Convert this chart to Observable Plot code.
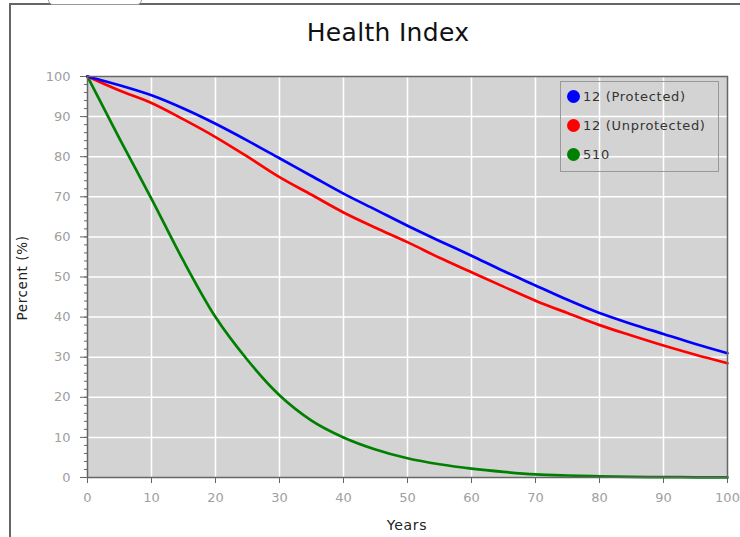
<!DOCTYPE html>
<html>
<head>
<meta charset="utf-8">
<script src="https://cdn.jsdelivr.net/npm/d3@7"></script>
<script src="https://cdn.jsdelivr.net/npm/@observablehq/plot@0.6"></script>
<style>
  html, body { margin: 0; padding: 0; background: #fff; }
  #wrap { position: relative; width: 740px; height: 537px; overflow: hidden; font-family: "DejaVu Sans", Verdana, sans-serif; }
  #border { position: absolute; left: 9px; top: 3px; width: 740px; height: 540px; border-left: 2px solid #666; border-top: 2px solid #666; box-sizing: border-box; }
  #tab { position: absolute; left: 48px; top: -6px; width: 92px; height: 9px; border: 1px solid #999; border-radius: 0 0 5px 5px; background: #fff; }
  #title { position: absolute; left: 0; width: 776px; top: 18px; line-height: 30px; text-align: center; font-size: 25px; color: #111; letter-spacing: 0.3px; }
  #chart { position: absolute; left: 0; top: 0; }
  #legend { position: absolute; left: 560px; top: 81px; width: 159px; height: 91px; border: 1px solid #999; box-sizing: border-box; }
  .item { position: absolute; left: 6px; height: 14px; font-size: 13px; letter-spacing: 0.7px; color: #333; line-height: 14px; white-space: nowrap; }
  .dot { display: inline-block; width: 13px; height: 13px; border-radius: 50%; vertical-align: middle; margin-right: 3px; position: relative; top: -1px; }
  #ylab { position: absolute; left: 22px; top: 278px; transform: translate(-50%, -50%) rotate(-90deg); font-size: 13.5px; letter-spacing: 0.6px; color: #222; white-space: nowrap; }
  #xlab { position: absolute; left: 407px; top: 525px; transform: translate(-50%, -50%); font-size: 14px; letter-spacing: 0.7px; color: #222; }
</style>
</head>
<body>
<div id="wrap">
  <div id="border"></div>
  <div id="tab"></div>
  <div id="chart"></div>
  <div id="title">Health Index</div>
  <div id="legend"></div>
  <div id="ylab">Percent (%)</div>
  <div id="xlab">Years</div>
</div>
<script>
const years = [0, 5, 10, 15, 20, 25, 30, 35, 40, 45, 50, 55, 60, 65, 70, 75, 80, 85, 90, 95, 100];
const protectedVals   = [100, 97.8, 95.3, 92.0, 88.2, 84.0, 79.6, 75.2, 70.8, 66.8, 62.8, 59.0, 55.3, 51.5, 47.9, 44.3, 41.0, 38.3, 35.8, 33.3, 31.0];
const unprotectedVals = [100, 96.5, 93.4, 89.3, 84.9, 80.0, 74.9, 70.5, 66.1, 62.3, 58.7, 54.8, 51.2, 47.6, 44.1, 41.0, 38.0, 35.4, 32.9, 30.6, 28.5];
const vals510         = [100, 84.5, 69.5, 54.0, 40.0, 29.3, 20.5, 14.2, 10.0, 7.0, 4.8, 3.3, 2.2, 1.4, 0.8, 0.5, 0.3, 0.15, 0.1, 0.05, 0.03];
const seriesNames = ["12 (Protected)", "12 (Unprotected)", "510"];
const seriesColors = ["#0000ff", "#ff0000", "#008000"];
const xTicks = [0, 10, 20, 30, 40, 50, 60, 70, 80, 90, 100];
const yTicks = [0, 10, 20, 30, 40, 50, 60, 70, 80, 90, 100];

const seriesVals = [protectedVals, unprotectedVals, vals510];
const data = [];
seriesNames.forEach((name, i) => {
  years.forEach((yr, j) => data.push({series: name, year: yr, value: seriesVals[i][j]}));
});
const drawOrder = ["510", "12 (Unprotected)", "12 (Protected)"];
const ordered = drawOrder.flatMap(n => data.filter(d => d.series === n));

const chart = Plot.plot({
  width: 740,
  height: 537,
  marginLeft: 87,
  marginRight: 13,
  marginTop: 76,
  marginBottom: 60,
  style: { fontFamily: "DejaVu Sans, Verdana, sans-serif", fontSize: "13px", background: "transparent" },
  x: { domain: [0, 100] },
  y: { domain: [0, 100] },
  color: { domain: seriesNames, range: seriesColors },
  marks: [
    Plot.frame({ fill: "#d3d3d3" }),
    Plot.gridX({ ticks: xTicks.filter(d => d > 0 && d < 100), stroke: "#ffffff", strokeOpacity: 1, strokeWidth: 1.5 }),
    Plot.gridY({ ticks: yTicks.filter(d => d > 0 && d < 100), stroke: "#ffffff", strokeOpacity: 1, strokeWidth: 1.5 }),
    Plot.axisY({ ticks: d3.range(0, 101, 2), tickSize: 3, tickFormat: () => "", label: null, stroke: "#666" }),
    Plot.axisY({ ticks: yTicks, tickSize: 7, tickPadding: 10, label: null, stroke: "#666", fill: "#a0a0a0", letterSpacing: "0.6px" }),
    Plot.axisX({ ticks: xTicks, tickSize: 6, tickPadding: 9, label: null, stroke: "#666", fill: "#a0a0a0", letterSpacing: "0.6px" }),
    Plot.line(ordered, { x: "year", y: "value", stroke: "series", z: "series", strokeWidth: 2.7, curve: "monotone-x" }),
    Plot.frame({ stroke: "#666", strokeWidth: 1.5 })
  ]
});
document.getElementById("chart").appendChild(chart);

const legend = document.getElementById("legend");
seriesNames.forEach((name, i) => {
  const item = document.createElement("div");
  item.className = "item";
  item.style.top = (8 + i * 29) + "px";
  item.innerHTML = `<span class="dot" style="background:${seriesColors[i]}"></span>${name}`;
  legend.appendChild(item);
});
</script>
</body>
</html>
